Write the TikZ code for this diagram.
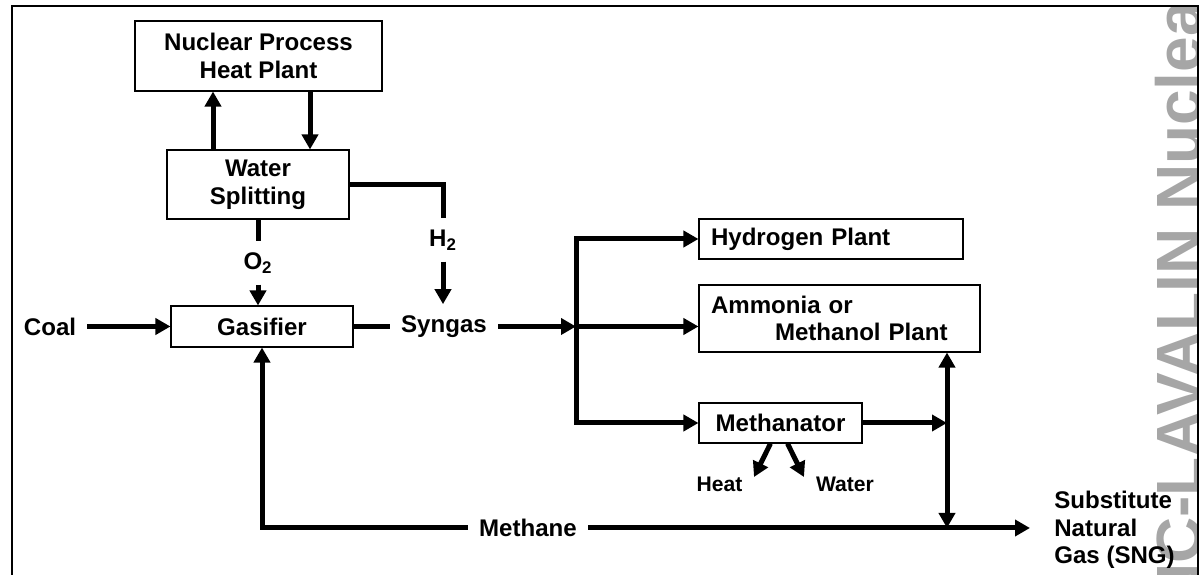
\documentclass[tikz,border=0pt]{standalone}
\usepackage{fontspec}
\setmainfont{Liberation Sans}
\usepackage{tikz}
\usetikzlibrary{positioning}
\usetikzlibrary{calc}
\usetikzlibrary{arrows.meta}
\definecolor{wmgray}{RGB}{166,166,166}
\tikzset{box/.style={draw,line width=0.6pt,inner sep=0pt,align=center},
lbl/.style={inner sep=0.22cm},
small/.style={font=\bfseries\fontsize{12}{14}\selectfont},
pipe/.style={line width=0.1cm},
flow/.style={line width=0.1cm,-{Triangle[width=0.32cm,length=0.3cm]}},
twoway/.style={line width=0.1cm,{Triangle[width=0.32cm,length=0.3cm]}-{Triangle[width=0.32cm,length=0.3cm]}}}

\begin{document}
\begin{tikzpicture}[every node/.style={font=\bfseries\fontsize{13.7}{15.8}\selectfont}]
\useasboundingbox (0,0) rectangle (24.06cm,-11.5cm);

\begin{scope}
\clip (0.24cm,-0.12cm) rectangle (23.96cm,-11.5cm);
\node (wmark) at (24.02cm,-13.06cm) [rotate=90,anchor=base west,inner sep=0pt,text=wmgray,font=\bfseries\fontsize{36.4}{40}\selectfont] {SNC-LAVALIN Nuclear};
\end{scope}
\draw[line width=0.05cm] (0.24cm,-11.5cm) -- (0.24cm,-0.12cm) -- (23.96cm,-0.12cm) -- (23.96cm,-11.5cm);

\node (nuc) at (5.17cm,-1.12cm) [box,minimum width=4.94cm,minimum height=1.4cm] {Nuclear Process\\Heat Plant};
\node (split) at (5.16cm,-3.69cm) [box,minimum width=3.64cm,minimum height=1.38cm] {Water\\Splitting};
\node (gas) at (5.24cm,-6.53cm) [box,minimum width=3.64cm,minimum height=0.82cm] {Gasifier};

\node (coal) at (1.0cm,-6.53cm) [lbl] {Coal};
\node (o2) at (5.16cm,-5.26cm) [lbl] {O\textsubscript{2}};
\node (h2) at (8.86cm,-4.8cm) [lbl] {H\textsubscript{2}};
\node (syngas) at (8.88cm,-6.53cm) [lbl] {Syngas};
\node (methane) at (10.56cm,-10.56cm) [lbl] {Methane};

\node (hyd) at (16.62cm,-4.78cm) [box,text width=4.8cm,inner xsep=0.24cm,minimum height=0.8cm,align=left] {Hydrogen Plant};
\node (amm) at (16.79cm,-6.37cm) [box,text width=5.14cm,inner xsep=0.24cm,minimum height=1.34cm,align=left] {Ammonia or\\\hspace*{1.28cm}Methanol Plant};
\node (meth) at (15.61cm,-8.46cm) [box,minimum width=3.26cm,minimum height=0.8cm] {Methanator};

\node (heat) at (14.39cm,-9.68cm) [small] {Heat};
\node (water) at (16.9cm,-9.68cm) [small] {Water};
\node (sng) at (21.08cm,-10.6cm) [anchor=west,inner sep=0pt,align=left] {Substitute\\Natural\\Gas (SNG)};

\coordinate (j) at (11.52cm,-6.53cm);
\coordinate (v) at (18.94cm,-10.56cm);
\coordinate (heattip) at (15.08cm,-9.54cm);
\coordinate (watertip) at (16.08cm,-9.54cm);
\coordinate (sngin) at ([xshift=-0.48cm]sng.west);

\draw[flow] ([xshift=-0.9cm]split.north) -- ([xshift=-0.9cm]split.north |- nuc.south);
\draw[flow] ([xshift=1.03cm]nuc.south) -- ([xshift=1.03cm]nuc.south |- split.north);
\draw[pipe] (split.south) -- (o2.north);
\draw[flow] (o2.south) -- (o2.south |- gas.north);
\draw[pipe] (split.east) -| (h2.north);
\draw[flow] (h2.south) -- (h2.south |- syngas.north);
\draw[flow] (coal) -- (gas);
\draw[pipe] (gas) -- (syngas);
\draw[flow] (syngas) -- (j);
\draw[flow] (j) |- (hyd.west);
\draw[flow] (j) -- (j -| amm.west);
\draw[flow] (j) |- (meth.west);
\draw[flow] ([xshift=-0.2cm]meth.south) -- (heattip);
\draw[flow] ([xshift=0.14cm]meth.south) -- (watertip);
\draw[flow] (meth.east) -- (meth.east -| v);
\draw[twoway] (v) -- (v |- amm.south);
\draw[flow] (methane.west) -| (gas.south);
\draw[flow] (methane.east) -- (methane.east -| sngin);
\end{tikzpicture}
\end{document}
